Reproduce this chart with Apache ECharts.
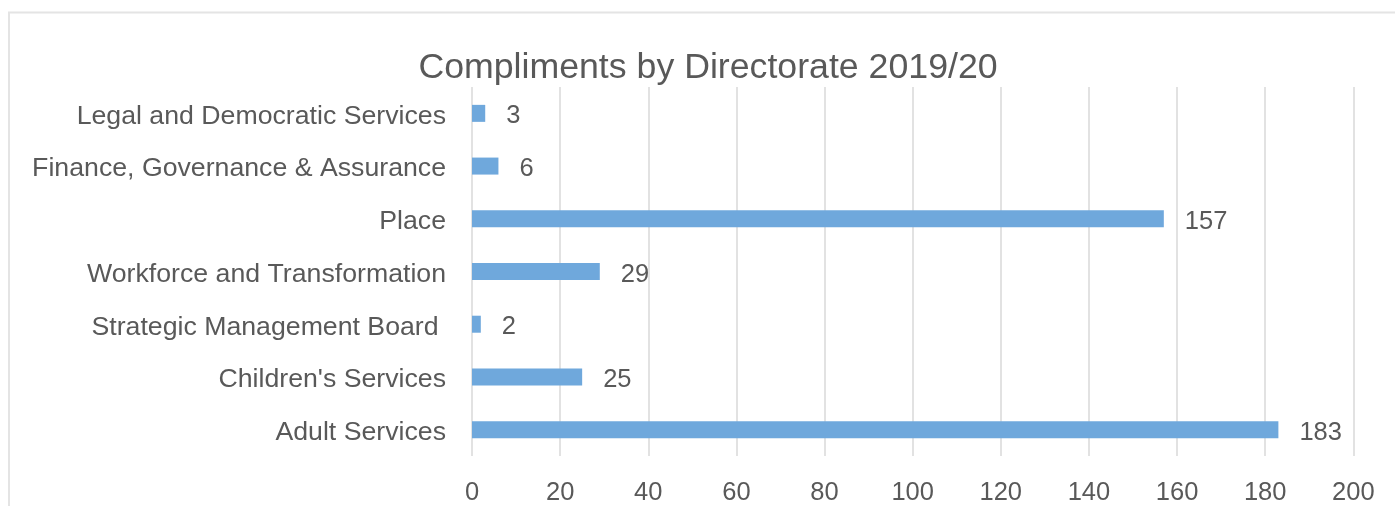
<!DOCTYPE html>
<html>
<head>
<meta charset="utf-8">
<title>Compliments by Directorate 2019/20</title>
<script src="https://cdn.jsdelivr.net/npm/echarts@6/dist/echarts.min.js"></script>
<style>
  html, body { margin: 0; padding: 0; background: #ffffff; }
  #chart { width: 1395px; height: 506px; }
</style>
</head>
<body>
<div id="chart"></div>
<script>
// Directorates, listed bottom to top as they appear on the category axis
const directorates = [
  'Adult Services',
  "Children's Services",
  'Strategic Management Board ',
  'Workforce and Transformation',
  'Place',
  'Finance, Governance & Assurance',
  'Legal and Democratic Services'
];
// Number of compliments received per directorate
const compliments = [183, 25, 2, 29, 157, 6, 3];
// Value axis range and step
const axisMin = 0;
const axisMax = 200;
const axisStep = 20;

const textColor = '#595959';
const gridColor = '#d9d9d9';
const barColor = '#6fa8dc';
const fontFamily = '"Liberation Sans", Arial, Helvetica, sans-serif';

const chart = echarts.init(document.getElementById('chart'), null, { renderer: 'canvas' });

chart.setOption({
  backgroundColor: '#ffffff',
  animation: false,
  textStyle: { fontFamily: fontFamily },
  graphic: [{
    type: 'rect',
    silent: true,
    shape: { x: 9, y: 12.5, width: 1500, height: 600 },
    style: { fill: 'none', stroke: '#e4e4e4', lineWidth: 2 }
  }],
  title: {
    text: 'Compliments by Directorate 2019/20',
    left: 708,
    top: 50,
    textAlign: 'center',
    padding: 0,
    textStyle: {
      color: textColor,
      fontFamily: fontFamily,
      fontSize: 35.7,
      fontWeight: 'normal'
    }
  },
  grid: {
    left: 472,
    right: 41.7,
    top: 87,
    bottom: 49,
    containLabel: false
  },
  xAxis: {
    type: 'value',
    min: axisMin,
    max: axisMax,
    interval: axisStep,
    axisLine: { show: false },
    axisTick: { show: false },
    axisLabel: {
      color: textColor,
      fontFamily: fontFamily,
      fontSize: 25.5,
      margin: 24
    },
    splitLine: {
      show: true,
      showMinLine: true,
      showMaxLine: true,
      lineStyle: { color: gridColor, width: 1.5 }
    }
  },
  yAxis: {
    type: 'category',
    data: directorates,
    axisLine: { show: false },
    axisTick: { show: false },
    splitLine: { show: false },
    axisLabel: {
      margin: 26,
      formatter: function (name) { return '{cat|' + name + '}'; },
      rich: {
        cat: {
          color: textColor,
          fontFamily: fontFamily,
          fontSize: 26.7,
          padding: [6, 0, 0, 0]
        }
      }
    }
  },
  series: [{
    type: 'bar',
    data: compliments,
    barWidth: 17,
    itemStyle: { color: barColor },
    label: {
      show: true,
      position: 'right',
      distance: 21,
      offset: [0, 3],
      color: textColor,
      fontFamily: fontFamily,
      fontSize: 25.5
    }
  }]
});
</script>
</body>
</html>
